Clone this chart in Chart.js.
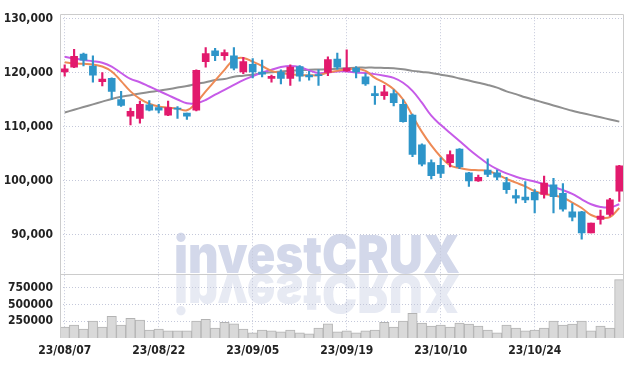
<!DOCTYPE html>
<html>
<head>
<meta charset="utf-8">
<script src="https://cdn.jsdelivr.net/npm/chart.js@4.4.0/dist/chart.umd.min.js"></script>
<style>
  html, body { margin: 0; padding: 0; background: #fff; }
  #wrap { width: 634px; height: 367px; position: relative; }
</style>
</head>
<body>
<div id="wrap"><canvas id="stockChart"></canvas></div>
<script>
// trading days, YY/MM/DD
const dates = [
    '23/08/07','23/08/08','23/08/09','23/08/10','23/08/11','23/08/14','23/08/16','23/08/17','23/08/18','23/08/21',
    '23/08/22','23/08/23','23/08/24','23/08/25','23/08/28','23/08/29','23/08/30','23/08/31','23/09/01','23/09/04',
    '23/09/05','23/09/06','23/09/07','23/09/08','23/09/11','23/09/12','23/09/13','23/09/14','23/09/15','23/09/18',
    '23/09/19','23/09/20','23/09/21','23/09/22','23/09/25','23/09/26','23/09/27','23/10/04','23/10/05','23/10/06',
    '23/10/10','23/10/11','23/10/12','23/10/13','23/10/16','23/10/17','23/10/18','23/10/19','23/10/20','23/10/23',
    '23/10/24','23/10/25','23/10/26','23/10/27','23/10/30','23/10/31','23/11/01','23/11/02','23/11/03','23/11/06'
];

const opens = [
    120100,121000,123400,121200,118300,118900,115000,111900,111500,114000,
    113500,112100,113400,112500,113000,122000,124000,123100,123100,120100,
    121500,120100,118900,120100,118900,121100,119500,119600,120000,122500,
    120300,120800,119200,116100,115700,116100,114100,112100,106600,103300,
    102800,103300,105800,101400,99900,101900,101400,99600,97200,96900,
    97800,97400,99200,97600,94200,94200,90300,92800,93700,98000
];
const highs = [
    121400,124300,123600,123100,120000,119000,116500,113400,114700,114800,
    114100,114700,113700,112500,120500,124600,124500,124200,124600,122800,
    122600,122300,119500,120500,121400,121300,120200,120500,122900,123600,
    124200,121100,119800,117500,117600,116800,115000,112300,106800,103800,
    104200,105500,105900,101500,101000,104000,101900,100600,98300,99800,
    98300,100800,100400,99400,95700,94300,92100,94500,96700,102800
];
const lows = [
    119300,120900,121200,118200,117500,115000,113700,110300,110600,112900,
    112500,112000,111500,111300,112900,121000,122200,122300,120500,119800,
    119000,119200,118200,117900,117600,118400,118600,117600,119400,120600,
    120200,119000,117600,114100,115000,113800,110800,104400,102700,100300,
    100500,102500,102200,98900,99800,100700,100100,97600,95800,95900,
    94000,96700,94000,94300,92500,89100,90300,91900,93400,96100
];
const closes = [
    120700,123000,122300,119500,118800,116500,113900,112800,114100,113000,
    113000,113500,113200,111900,120400,123500,123100,123700,120800,122000,
    120100,119700,119300,118900,121000,119300,119200,119400,122400,121000,
    120800,120100,117900,115700,116400,114400,110900,104800,103000,100900,
    101300,104800,102500,99900,100600,101100,100600,98300,96700,96400,
    96400,99500,97000,94700,93200,90300,92100,93400,96400,102700
];
const volumes = [
    163000,192000,134000,250000,163000,323000,192000,294000,265000,119000,
    134000,105000,105000,105000,250000,279000,148000,235000,211000,134000,
    76000,119000,105000,90000,119000,76000,61000,148000,211000,90000,
    105000,76000,105000,119000,235000,163000,250000,366000,221000,177000,
    192000,163000,221000,206000,177000,119000,76000,192000,148000,105000,
    119000,148000,250000,192000,206000,250000,105000,177000,148000,868000
];

// moving averages
const ma5 = [
    121900,121700,121600,121500,121100,120200,118400,116500,115100,114200,
    113700,113500,113300,113000,114400,116500,118500,120500,122400,122700,
    122000,121200,120300,119900,119700,119500,119500,119500,120000,120300,
    120600,120700,120300,119000,118100,116900,115000,112000,109000,106500,
    104400,102800,102300,102000,101900,101800,101100,100300,99600,98900,
    98000,97500,97200,96800,95900,94900,93600,93100,93200,94900
];
const ma10 = [
    122900,122600,122300,122100,121800,121100,119900,118800,118200,117400,
    116600,115800,115000,114300,114300,114900,115900,116800,117700,118600,
    119300,120000,120500,121000,121200,121000,120400,119900,120000,120200,
    120200,120000,119900,119700,119400,119000,118100,116600,114400,112000,
    110300,108800,107300,105800,104400,103100,102100,101300,100700,100200,
    99800,99300,98800,98200,97500,96500,95600,95100,95000,95600
];
const maLong = [
    112600,113100,113600,114100,114600,115100,115500,115800,116100,116400,
    116600,116900,117200,117500,117900,118200,118600,118800,119200,119400,
    119600,119900,120050,120200,120300,120400,120500,120550,120600,120700,
    120800,120900,120900,120900,120850,120800,120600,120300,120100,119900,
    119600,119300,118900,118500,118100,117700,117200,116500,116000,115400,
    114900,114400,113900,113400,112900,112500,112100,111700,111300,110900
];

const priceTicks = [90000, 100000, 110000, 120000, 130000];
const volumeTicks = [250000, 500000, 750000];
const wmText = 'investCRUX';

const red    = '#e21a6d';
const blue   = '#2e95c9';
const orange = '#ee8a55';
const purple = '#c65be8';
const gray   = '#8f8f8f';
const gridColor = '#c4c8da';
const tickFont = { family: "'Liberation Sans Narrow', 'DejaVu Sans Condensed', sans-serif", size: 12, weight: 'bold' };

const candleColors = opens.map((o, i) => closes[i] >= o ? red : blue);

// ── watermark with reflection ──
const watermark = {
    id: 'watermark',
    beforeDraw(chart) {
        const { ctx } = chart;
        const base = chart.scales.y.bottom;
        ctx.save();
        ctx.font = "900 52px Inter, 'DejaVu Sans', sans-serif";
        ctx.textAlign = 'center';
        ctx.textBaseline = 'alphabetic';
        const w = ctx.measureText(wmText).width;
        ctx.translate(chart.width / 2, base - 1);
        ctx.scale(286 / w, 1);
        ctx.fillStyle = '#d3d8ea';
        ctx.fillText(wmText, 0, 0);
        ctx.scale(1, -1);
        ctx.translate(0, -2);
        ctx.fillStyle = 'rgba(211,216,234,0.55)';
        ctx.fillText(wmText, 0, 0);
        ctx.restore();
    }
};

// ── frame around both panes ──
const frame = {
    id: 'frame',
    afterDraw(chart) {
        const { ctx, chartArea: a } = chart;
        const sep = chart.scales.y.bottom;
        ctx.save();
        ctx.strokeStyle = '#cccccc';
        ctx.lineWidth = 1;
        ctx.beginPath();
        ctx.moveTo(Math.round(a.left) + 0.5, a.bottom);
        ctx.lineTo(Math.round(a.left) + 0.5, Math.round(a.top) + 0.5);
        ctx.lineTo(Math.round(a.right) - 0.5, Math.round(a.top) + 0.5);
        ctx.lineTo(Math.round(a.right) - 0.5, a.bottom);
        ctx.moveTo(a.left, Math.round(sep) + 0.5);
        ctx.lineTo(a.right, Math.round(sep) + 0.5);
        ctx.stroke();
        ctx.restore();
    }
};

new Chart(document.getElementById('stockChart'), {
    type: 'bar',
    data: {
        labels: dates,
        datasets: [
            {
                label: 'body',
                data: opens.map((o, i) => [o, closes[i]]),
                backgroundColor: candleColors,
                barThickness: 7,
                grouped: false,
                yAxisID: 'y',
                order: 0,
            },
            {
                label: 'wick',
                data: lows.map((l, i) => [l, highs[i]]),
                backgroundColor: candleColors,
                barThickness: 1.5,
                grouped: false,
                yAxisID: 'y',
                order: 1,
            },
            {
                type: 'line',
                label: 'MA5',
                data: ma5,
                borderColor: orange,
                borderWidth: 2,
                pointRadius: 0,
                tension: 0.4,
                yAxisID: 'y',
                order: 2,
            },
            {
                type: 'line',
                label: 'MA10',
                data: ma10,
                borderColor: purple,
                borderWidth: 2,
                pointRadius: 0,
                tension: 0.4,
                yAxisID: 'y',
                order: 3,
            },
            {
                type: 'line',
                label: 'MA60',
                data: maLong,
                borderColor: gray,
                borderWidth: 2,
                pointRadius: 0,
                tension: 0.4,
                yAxisID: 'y',
                order: 4,
            },
            {
                label: 'Volume',
                data: volumes,
                backgroundColor: '#d9d9d9',
                borderColor: '#b3b3b3',
                borderWidth: 1,
                barPercentage: 1,
                categoryPercentage: 1,
                grouped: false,
                yAxisID: 'yVol',
                order: 5,
            }
        ]
    },
    options: {
        responsive: true,
        maintainAspectRatio: false,
        animation: false,
        layout: { padding: { top: 10, right: 10, bottom: 5, left: 0 } },
        plugins: {
            legend: { display: false },
            tooltip: { enabled: false }
        },
        scales: {
            x: {
                type: 'category',
                offset: true,
                grid: {
                    offset: false,
                    drawTicks: false,
                    color: c => c.index % 10 === 0 ? gridColor : 'rgba(0,0,0,0)',
                },
                border: { display: false, dash: [1, 2] },
                ticks: {
                    autoSkip: false,
                    maxRotation: 0,
                    padding: 6,
                    color: '#222',
                    font: tickFont,
                    callback: (v, i) => i % 10 === 0 ? dates[i] : '',
                },
                afterFit: s => { s.height = 24; }
            },
            y: {
                position: 'left',
                stack: 'panes',
                stackWeight: 263,
                weight: 1,
                min: 82700,
                max: 130800,
                grid: { color: gridColor, drawTicks: false },
                border: { display: false, dash: [1, 2] },
                ticks: {
                    padding: 7,
                    color: '#222',
                    font: tickFont,
                    callback: v => Number(v).toLocaleString('en-US'),
                },
                afterBuildTicks: s => { s.ticks = priceTicks.map(v => ({ value: v })); },
                afterFit: s => { s.width = 60; }
            },
            yVol: {
                position: 'left',
                stack: 'panes',
                stackWeight: 65,
                weight: 0,
                min: 0,
                max: 955000,
                grid: { color: gridColor, drawTicks: false },
                border: { display: false, dash: [1, 2] },
                ticks: {
                    autoSkip: false,
                    padding: 7,
                    color: '#222',
                    font: tickFont,
                    callback: v => String(v),
                },
                afterBuildTicks: s => { s.ticks = volumeTicks.map(v => ({ value: v })); },
                afterFit: s => { s.width = 60; }
            }
        }
    },
    plugins: [watermark, frame]
});
</script>
</body>
</html>
